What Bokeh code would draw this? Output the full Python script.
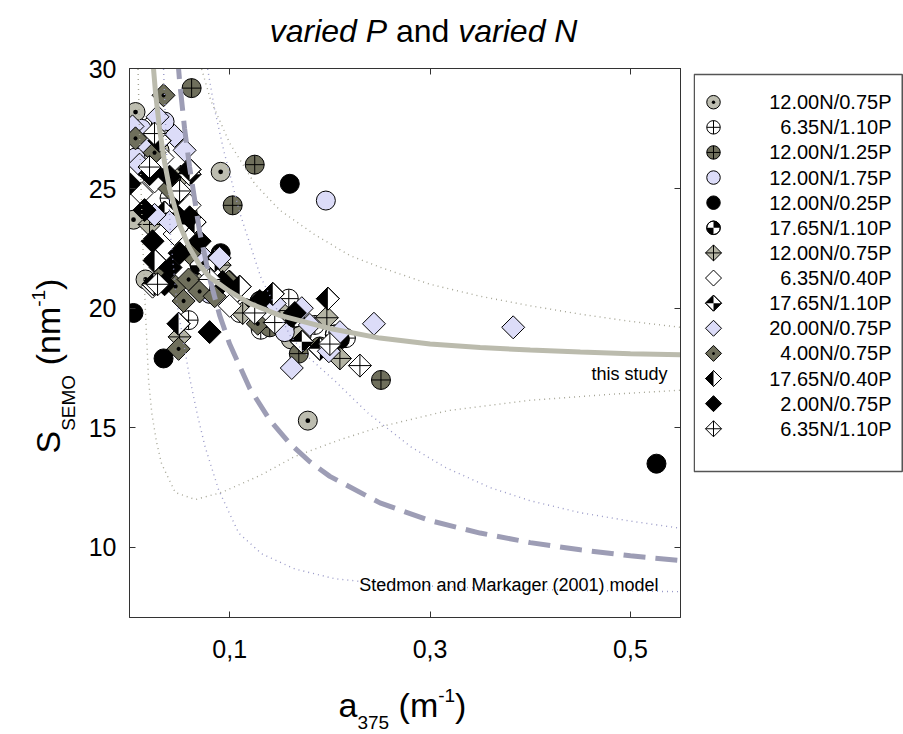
import math
from bokeh.plotting import figure
from bokeh.models import Range1d, FixedTicker, LinearAxis
from bokeh.layouts import row, column
from bokeh.core.properties import value
from bokeh.embed import file_html
from bokeh.resources import INLINE

# ---------------- data ----------------
x_ticks = [0.1, 0.3, 0.5]
x_tick_labels = ["0,1", "0,3", "0,5"]
y_ticks = [10, 15, 20, 25, 30]

legend_labels = ["12.00N/0.75P", "6.35N/1.10P", "12.00N/1.25P", "12.00N/1.75P",
                 "12.00N/0.25P", "17.65N/1.10P", "12.00N/0.75P", "6.35N/0.40P",
                 "17.65N/1.10P", "20.00N/0.75P", "4.00N/0.75P", "17.65N/0.40P",
                 "2.00N/0.75P", "6.35N/1.10P"]

s1_x = [0.006, 0.012, 0.004, 0.016, 0.091, 0.178, 0.161, 0.172, 0.148, 0.030, 0.058, 0.200]
s1_y = [28.2, 27.3, 23.7, 21.2, 25.7, 15.3, 18.7, 18.9, 19.3, 26.6, 24.0, 18.4]
s2_x = [0.022, 0.059, 0.159, 0.131, 0.216, 0.040, 0.110, 0.185, 0.075]
s2_y = [27.6, 19.5, 20.4, 19.1, 18.75, 24.6, 19.8, 19.3, 22.0]
s3_x = [0.062, 0.125, 0.103, 0.251, 0.169, 0.140, 0.190]
s3_y = [29.2, 26.0, 24.3, 17.0, 18.1, 19.2, 18.4]
s4_x = [0.196, 0.012, 0.006, 0.155, 0.035, 0.080]
s4_y = [24.5, 27.5, 26.3, 19.0, 27.8, 20.6]
s5_x = [0.160, 0.526, 0.004, 0.034, 0.091, 0.210, 0.050, 0.030]
s5_y = [25.2, 13.5, 19.8, 17.9, 22.3, 18.7, 24.2, 25.5]
s6_x = [0.020, 0.050, 0.070, 0.115, 0.165, 0.205, 0.130]
s6_y = [26.9, 23.5, 21.8, 20.0, 19.6, 18.9, 20.3]
s7_x = [0.051, 0.075, 0.113, 0.197, 0.210, 0.020, 0.050, 0.150, 0.090]
s7_y = [25.5, 21.2, 19.8, 19.6, 17.9, 23.5, 18.8, 19.9, 21.8]
s8_x = [0.023, 0.033, 0.045, 0.025, 0.100, 0.080, 0.060, 0.140, 0.012]
s8_y = [20.9, 26.3, 23.1, 25.3, 20.1, 21.5, 24.3, 19.6, 24.8]
s9_x = [0.024, 0.060, 0.172, 0.190, 0.035, 0.085, 0.100]
s9_y = [21.0, 25.6, 18.6, 18.3, 24.0, 22.0, 21.1]
s10_x = [0.383, 0.162, 0.172, 0.244, 0.199, 0.003, 0.018, 0.028, 0.045, 0.040, 0.025,
         0.070, 0.090, 0.010, 0.055, 0.180, 0.145, 0.210]
s10_y = [19.2, 17.5, 20.0, 19.35, 18.2, 27.6, 26.8, 28.0, 27.2, 23.6, 23.9,
         22.3, 22.1, 26.0, 26.6, 19.3, 20.2, 19.0]
s11_x = [0.034, 0.006, 0.031, 0.046, 0.054, 0.059, 0.099, 0.049, 0.128, 0.040, 0.070,
         0.085, 0.025, 0.060]
s11_y = [28.9, 27.1, 21.7, 20.9, 20.3, 21.2, 21.1, 18.3, 19.35, 25.0, 20.7,
         20.5, 26.5, 22.3]
s12_x = [0.049, 0.143, 0.198, 0.060, 0.065, 0.030, 0.110, 0.025]
s12_y = [19.35, 20.6, 20.4, 25.8, 23.6, 27.0, 20.9, 22.0]
s13_x = [0.000, 0.080, 0.023, 0.041, 0.093, 0.040, 0.020, 0.060, 0.050, 0.130, 0.015,
         0.035, 0.070, 0.165]
s13_y = [25.2, 19.0, 22.8, 21.7, 21.1, 25.5, 25.6, 23.8, 22.3, 20.3, 24.1,
         21.0, 22.8, 19.8]
s14_x = [0.230, 0.025, 0.028, 0.145, 0.080, 0.020, 0.200, 0.050, 0.125]
s14_y = [17.6, 27.3, 21.0, 19.4, 21.2, 25.9, 18.5, 24.9, 19.8]

# fitted model curves and their bands
study_x = [0.023, 0.026, 0.030, 0.035, 0.040, 0.050, 0.060, 0.070, 0.080, 0.100, 0.120,
           0.150, 0.200, 0.250, 0.300, 0.350, 0.400, 0.450, 0.500, 0.550]
study_y = [30.5, 29.0, 27.5, 26.1, 25.0, 23.5, 22.5, 21.8, 21.3, 20.7, 20.2,
           19.7, 19.15, 18.75, 18.5, 18.36, 18.25, 18.17, 18.1, 18.05]
sm_x = [0.048, 0.050, 0.055, 0.060, 0.070, 0.080, 0.090, 0.100, 0.120, 0.140, 0.160,
        0.180, 0.200, 0.250, 0.300, 0.350, 0.400, 0.450, 0.500, 0.550]
sm_y = [30.5, 29.5, 27.5, 25.9, 23.2, 21.25, 19.7, 18.5, 16.65, 15.33, 14.35,
        13.58, 12.97, 11.86, 11.12, 10.6, 10.2, 9.9, 9.65, 9.45]
band1_x = [0.072, 0.081, 0.100, 0.125, 0.150, 0.184, 0.220, 0.251, 0.300, 0.350, 0.400,
           0.450, 0.500, 0.550]
band1_y = [30.0, 28.7, 26.9, 25.2, 24.1, 23.1, 22.2, 21.7, 21.0, 20.5, 20.1,
           19.75, 19.45, 19.2]
band2_x = [0.0085, 0.0105, 0.013, 0.016, 0.019, 0.0223, 0.027, 0.032, 0.0456, 0.0656,
           0.092, 0.130, 0.165, 0.210, 0.251, 0.318, 0.400, 0.480, 0.550]
band2_y = [30.0, 26.5, 23.0, 19.8, 17.0, 15.6, 14.4, 13.5, 12.3, 12.0,
           12.3, 13.0, 13.8, 14.5, 15.05, 15.72, 16.15, 16.4, 16.57]
band3_x = [0.078, 0.085, 0.094, 0.110, 0.131, 0.150, 0.161, 0.180, 0.204, 0.2385, 0.281,
           0.315, 0.360, 0.400, 0.450, 0.500, 0.550]
band3_y = [30.0, 28.3, 26.6, 24.0, 21.3, 19.7, 18.8, 17.9, 17.0, 15.6, 14.2,
           13.35, 12.5, 11.95, 11.45, 11.1, 10.8]
band4_x = [0.034, 0.037, 0.041, 0.047, 0.053, 0.060, 0.068, 0.0755, 0.089, 0.109, 0.132,
           0.165, 0.205, 0.260, 0.350, 0.450, 0.550]
band4_y = [30.0, 26.5, 23.0, 20.3, 18.8, 17.1, 15.5, 14.2, 12.4, 10.6, 9.73,
           9.1, 8.69, 8.45, 8.3, 8.2, 8.15]

# ---------------- styles ----------------
GRAY = "#bdbdb0"
OLIVE = "#6f6f5c"
LAV = "#dcdcf8"
styles = [
    ("circle", GRAY, "dot"),
    ("circle", "white", "cross"),
    ("circle", OLIVE, "cross"),
    ("circle", LAV, None),
    ("circle", "black", None),
    ("circle", "white", "quad"),
    ("diamond", "#b4b4a4", "cross"),
    ("diamond", "white", None),
    ("diamond", "white", "quad"),
    ("diamond", LAV, None),
    ("diamond", OLIVE, "dot"),
    ("diamond", "white", "half"),
    ("diamond", "black", None),
    ("diamond", "white", "cross"),
]
series = [(s1_x, s1_y), (s2_x, s2_y), (s3_x, s3_y), (s4_x, s4_y), (s5_x, s5_y),
          (s6_x, s6_y), (s7_x, s7_y), (s8_x, s8_y), (s9_x, s9_y), (s10_x, s10_y),
          (s11_x, s11_y), (s12_x, s12_y), (s13_x, s13_y), (s14_x, s14_y)]

FONT = "Liberation Sans"
X0, X1 = 0.0, 0.55
Y0, Y1 = 7.07, 30.02
FW, FH = 551, 549
TITLE_H = 51
TOP_B, BOT_B = 17, 60           # identical borders for every figure in the middle row
FTOP = TITLE_H + TOP_B          # canvas y of the frame top (68)
FBOT = FTOP + FH                # canvas y of the frame bottom (617)
YLAB_W = 84
XLAB_H = 734 - FBOT - BOT_B     # 57
MID = 0.35                      # em offset from baseline to the "middle" anchor


def draw_series(fig, xs, ys, kind, fill, over, size, pxx, pxy):
    if kind == "circle":
        marker = {"dot": "circle_dot", "cross": "circle_cross"}.get(over, "circle")
        fig.scatter(xs, ys, marker=marker, size=size, fill_color=fill,
                    line_color="black", line_width=1)
        if over == "quad":
            r = size / 2.0
            for a0, a1 in [(0, math.pi / 2), (math.pi, 1.5 * math.pi)]:
                fig.wedge(x=xs, y=ys, radius=r, radius_units="screen",
                          start_angle=a0, end_angle=a1, fill_color="black",
                          line_color=None)
            fig.scatter(xs, ys, marker="circle", size=size, fill_color=None,
                        line_color="black", line_width=1)
    else:
        marker = {"dot": "square_dot", "cross": "square_x"}.get(over, "square")
        s = size / math.sqrt(2)
        fig.scatter(xs, ys, marker=marker, size=s, angle=math.pi / 4,
                    fill_color=fill, line_color="black", line_width=1)
        if over in ("quad", "half"):
            h = size / 2.0
            dx, dy = h / pxx, h / pxy
            pxs, pys = [], []
            for x, y in zip(xs, ys):
                if over == "half":
                    pxs.append([x, x - dx, x])
                    pys.append([y + dy, y, y - dy])
                else:
                    pxs.append([x, x - dx, x])
                    pys.append([y, y, y + dy])
                    pxs.append([x, x + dx, x])
                    pys.append([y, y, y - dy])
            fig.patches(pxs, pys, fill_color="black", line_color=None)
            fig.scatter(xs, ys, marker="square", size=s, angle=math.pi / 4,
                        fill_color=None, line_color="black", line_width=1)


def blank(w, h, top=0, bottom=0):
    f = figure(title=None, frame_width=w, frame_height=h, x_range=Range1d(0, w),
               y_range=Range1d(0, h), output_backend="svg", toolbar_location=None,
               x_axis_type=None, y_axis_type=None, min_border_left=0, min_border_right=0,
               min_border_top=top, min_border_bottom=bottom)
    f.grid.visible = False
    f.outline_line_color = None
    f.border_fill_color = "white"
    f.background_fill_color = "white"
    return f


def txt(f, s, x, y, size, style="normal", align="left", angle=0.0):
    f.text(x=[x], y=[y], text=[s], text_font=value(FONT), text_font_size=value(f"{size}px"),
           text_font_style=style, text_align=align, text_baseline="middle",
           angle=angle, text_color="black")


# ---------------- title (baseline at canvas y = 42) ----------------
tf = blank(903, TITLE_H)
TY = TITLE_H - (42 - MID * 32)
txt(tf, "varied P", 269.2, TY, 32, style="italic")
txt(tf, "and", 395.5, TY, 32)
txt(tf, "varied N", 457.8, TY, 32, style="italic")

# ---------------- y label (rotated, reads upward) ----------------
yf = blank(YLAB_W, FH, TOP_B, BOT_B)
R = math.pi / 2


def Yl(Y):
    return FBOT - Y


BIG, SMALL = 34, 19
YB = 59                          # baseline (canvas x) of the large glyphs
txt(yf, "S", YB - MID * BIG, Yl(453), BIG, angle=R)
txt(yf, "SEMO", YB + 16 - MID * SMALL, Yl(430.3), SMALL, angle=R)
txt(yf, "(nm", YB - MID * BIG, Yl(364.8), BIG, angle=R)
txt(yf, "-1", YB - 14 - MID * SMALL, Yl(306.3), SMALL, angle=R)
txt(yf, ")", YB - MID * BIG, Yl(289.4), BIG, angle=R)

# ---------------- main figure ----------------
p = figure(title=None, frame_width=FW, frame_height=FH, x_range=Range1d(X0, X1),
           y_range=Range1d(Y0, Y1), output_backend="svg", toolbar_location=None,
           min_border_left=129 - YLAB_W, min_border_top=TOP_B, min_border_bottom=BOT_B,
           min_border_right=13, x_axis_location="below", y_axis_location="left")
p.grid.visible = False
p.outline_line_color = "#333333"
p.background_fill_color = "white"
p.border_fill_color = "white"

for ax in [p.xaxis[0], p.yaxis[0]]:
    ax.axis_line_color = "#333333"
    ax.major_tick_line_color = "#333333"
    ax.major_tick_in = 6
    ax.major_tick_out = 0
    ax.minor_tick_line_color = None
    ax.major_label_text_font = FONT
    ax.major_label_text_font_size = "25px"
    ax.major_label_text_color = "black"
p.xaxis[0].ticker = FixedTicker(ticks=x_ticks)
p.xaxis[0].major_label_overrides = dict(zip(x_ticks, x_tick_labels))
p.xaxis[0].major_label_standoff = 22
p.yaxis[0].ticker = FixedTicker(ticks=y_ticks)
p.yaxis[0].major_label_standoff = 13

top_ax = LinearAxis(ticker=FixedTicker(ticks=x_ticks), major_tick_in=6, major_tick_out=0,
                    minor_tick_line_color=None, major_label_text_font_size="1px",
                    major_label_overrides={t: "" for t in x_ticks},
                    major_label_standoff=0, axis_line_color="#333333",
                    major_tick_line_color="#333333")
right_ax = LinearAxis(ticker=FixedTicker(ticks=y_ticks), major_tick_in=6, major_tick_out=0,
                      minor_tick_line_color=None, major_label_text_font_size="1px",
                      major_label_overrides={t: "" for t in y_ticks},
                      major_label_standoff=0, axis_line_color="#333333",
                      major_tick_line_color="#333333")
p.add_layout(top_ax, "above")
p.add_layout(right_ax, "right")

PXX = FW / (X1 - X0)
PXY = FH / (Y1 - Y0)
for (xs, ys), (kind, fill, over) in zip(series, styles):
    size = 19 if kind == "circle" else 23
    draw_series(p, xs, ys, kind, fill, over, size, PXX, PXY)

DOT = "1 4"
p.line(band1_x, band1_y, line_color="#a5a595", line_width=1.4, line_dash=DOT)
p.line(band2_x, band2_y, line_color="#a5a595", line_width=1.4, line_dash=DOT)
p.line(band3_x, band3_y, line_color="#9a9ac8", line_width=1.4, line_dash=DOT)
p.line(band4_x, band4_y, line_color="#9a9ac8", line_width=1.4, line_dash=DOT)
p.line(sm_x, sm_y, line_color="#9d9db5", line_width=5, line_dash="22 10")
p.line(study_x, study_y, line_color="#bbbbad", line_width=5)


def X_at(px):
    return X0 + (px - 129) / PXX


def Y_at(py):
    return Y1 - (py - FTOP) / PXY


txt(p, "this study", X_at(667), Y_at(380 - MID * 18), 18, align="right")
txt(p, "Stedmon and Markager (2001) model", X_at(658), Y_at(591 - MID * 18), 18,
    align="right")

# ---------------- legend (same frame rows as the plot; box drawn inside) ----------------
LEG_W = 210
leg = blank(LEG_W, FH, TOP_B, BOT_B)
BOX_TOP, BOX_BOT = 74, 471       # canvas y of the legend box edges
leg.quad(left=[0.75], right=[LEG_W - 1.25], top=[FBOT - BOX_TOP], bottom=[FBOT - BOX_BOT],
         fill_color=None, line_color="#555555", line_width=1.5)
ROW0, ROW_STEP = 101.7, 25.12
row_y = [FBOT - (ROW0 + ROW_STEP * i) for i in range(len(legend_labels))]
for i, ((kind, fill, over), text) in enumerate(zip(styles, legend_labels)):
    size = 13.5 if kind == "circle" else 16
    draw_series(leg, [20], [row_y[i]], kind, fill, over, size, 1.0, 1.0)
leg.text(x=[198] * len(legend_labels), y=row_y,
         text=legend_labels, text_align="right", text_baseline="middle",
         text_font=value(FONT), text_font_size=value("20px"), text_color="black")

# ---------------- x label ----------------
xf = blank(903, XLAB_H)


def Xl(Y):
    return 734 - Y


txt(xf, "a", 338, Xl(716 - MID * BIG), BIG)
txt(xf, "375", 356.9, Xl(729 - MID * SMALL), SMALL)
txt(xf, "(m", 398.1, Xl(716 - MID * BIG), BIG)
txt(xf, "-1", 437.7, Xl(702 - MID * SMALL), SMALL)
txt(xf, ")", 454.6, Xl(716 - MID * BIG), BIG)

layout = column(tf, row(yf, p, leg), xf)
open("out.html", "w").write(file_html(layout, INLINE))
